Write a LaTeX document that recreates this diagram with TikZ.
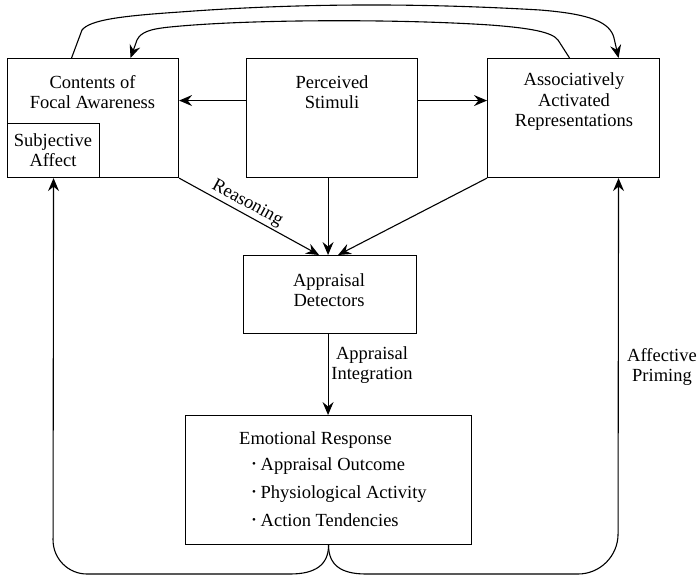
\documentclass[tikz,border=0pt]{standalone}
\usepackage{fontspec}
\setmainfont{Liberation Serif}
\usetikzlibrary{arrows.meta}
\begin{document}
\begin{tikzpicture}[x=1pt,y=-1pt,
  box/.style={draw, line width=1.1pt, rectangle, inner sep=0pt, anchor=north west},
  lbl/.style={font=\fontsize{18.5}{20.5}\selectfont, align=center, inner sep=0pt},
  item/.style={font=\fontsize{18.5}{20.5}\selectfont, inner sep=0pt, anchor=base west},
  arr/.style={line width=1.1pt, -{Stealth[length=13pt,width=11pt,inset=4.5pt]}}]
\useasboundingbox (0,0) rectangle (697,576);
% boxes
\node[box, minimum width=171pt, minimum height=119pt] (contents) at (7,58) {};
\node[box, minimum width=92pt, minimum height=54pt] (affect) at (7,123) {};
\node[box, minimum width=171pt, minimum height=119pt] (stim) at (246,58) {};
\node[box, minimum width=172pt, minimum height=119pt] (assoc) at (487,58) {};
\node[box, minimum width=173pt, minimum height=78pt] (detect) at (243,255) {};
\node[box, minimum width=286pt, minimum height=129pt] (emot) at (185,415) {};
% texts
\node[lbl] (contentsT) at (92.5,92) {Contents of\\Focal Awareness};
\node[lbl] (affectT) at (53,150) {Subjective\\Affect};
\node[lbl] (stimT) at (332,92) {Perceived\\Stimuli};
\node[lbl] (assocT) at (574,102) {Associatively\\Activated\\Representations};
\node[lbl] (detectT) at (329,290) {Appraisal\\Detectors};
\node[item] (emotT) at (239,444) {Emotional Response};
\node[item] (emotA) at (252,470) {\raisebox{0.12em}{\scalebox{0.6}{\textbullet}} Appraisal Outcome};
\node[item] (emotB) at (252,498) {\raisebox{0.12em}{\scalebox{0.6}{\textbullet}} Physiological Activity};
\node[item] (emotC) at (252,526) {\raisebox{0.12em}{\scalebox{0.6}{\textbullet}} Action Tendencies};
\node[lbl] (integr) at (372,365) {Appraisal\\Integration};
\node[lbl] (priming) at (662,367) {Affective\\Priming};
% connectors from stimuli
\draw[arr] ([yshift=17.5pt]stim.west) -- ([yshift=17.5pt]contents.east);
\draw[arr] ([yshift=17.5pt]stim.east) -- ([yshift=17.5pt]assoc.west);
\draw[arr] ([xshift=-4pt]stim.south) -- ([xshift=-4pt]stim.south |- detect.north);
\draw[arr] (contents.south east) -- node[lbl, sloped, above=2pt, pos=0.45] (reason) {Reasoning} ([xshift=-11pt]detect.north);
\draw[arr] (assoc.south west) -- ([xshift=8pt]detect.north);
\draw[arr] ([xshift=-2pt]detect.south) -- ([xshift=-2pt]detect.south |- emot.north);
% top arcs
\coordinate (outS) at ([xshift=-21.5pt]contents.north);
\coordinate (outE) at ([xshift=45pt]assoc.north);
\coordinate (inS) at ([xshift=-4pt]assoc.north);
\coordinate (inE) at ([xshift=37.5pt]contents.north);
\draw[arr] (outS) -- (82,30) .. controls (90,20) and (120,16) .. (180,12)
  .. controls (300,3) and (420,3) .. (540,10)
  .. controls (590,14) and (610,22) .. (614,38) -- (outE);
\draw[arr] (inS) -- (558,40) .. controls (552,32) and (530,28) .. (490,25)
  .. controls (400,19) and (250,19) .. (170,27)
  .. controls (150,29) and (141,32) .. (137,40) -- (inE);
% bottom loops
\coordinate (rightUp) at ([xshift=45pt]assoc.south);
\draw[arr] (emot.south) .. controls +(0,20) and +(25,0) .. (290,574)
  [rounded corners=34pt] -- (53,574) -- (affect.south);
\draw[arr] (emot.south) .. controls +(0,20) and +(-25,0) .. (366,574)
  [rounded corners=40pt] -- (618,574) -- (rightUp);
\end{tikzpicture}
\end{document}
